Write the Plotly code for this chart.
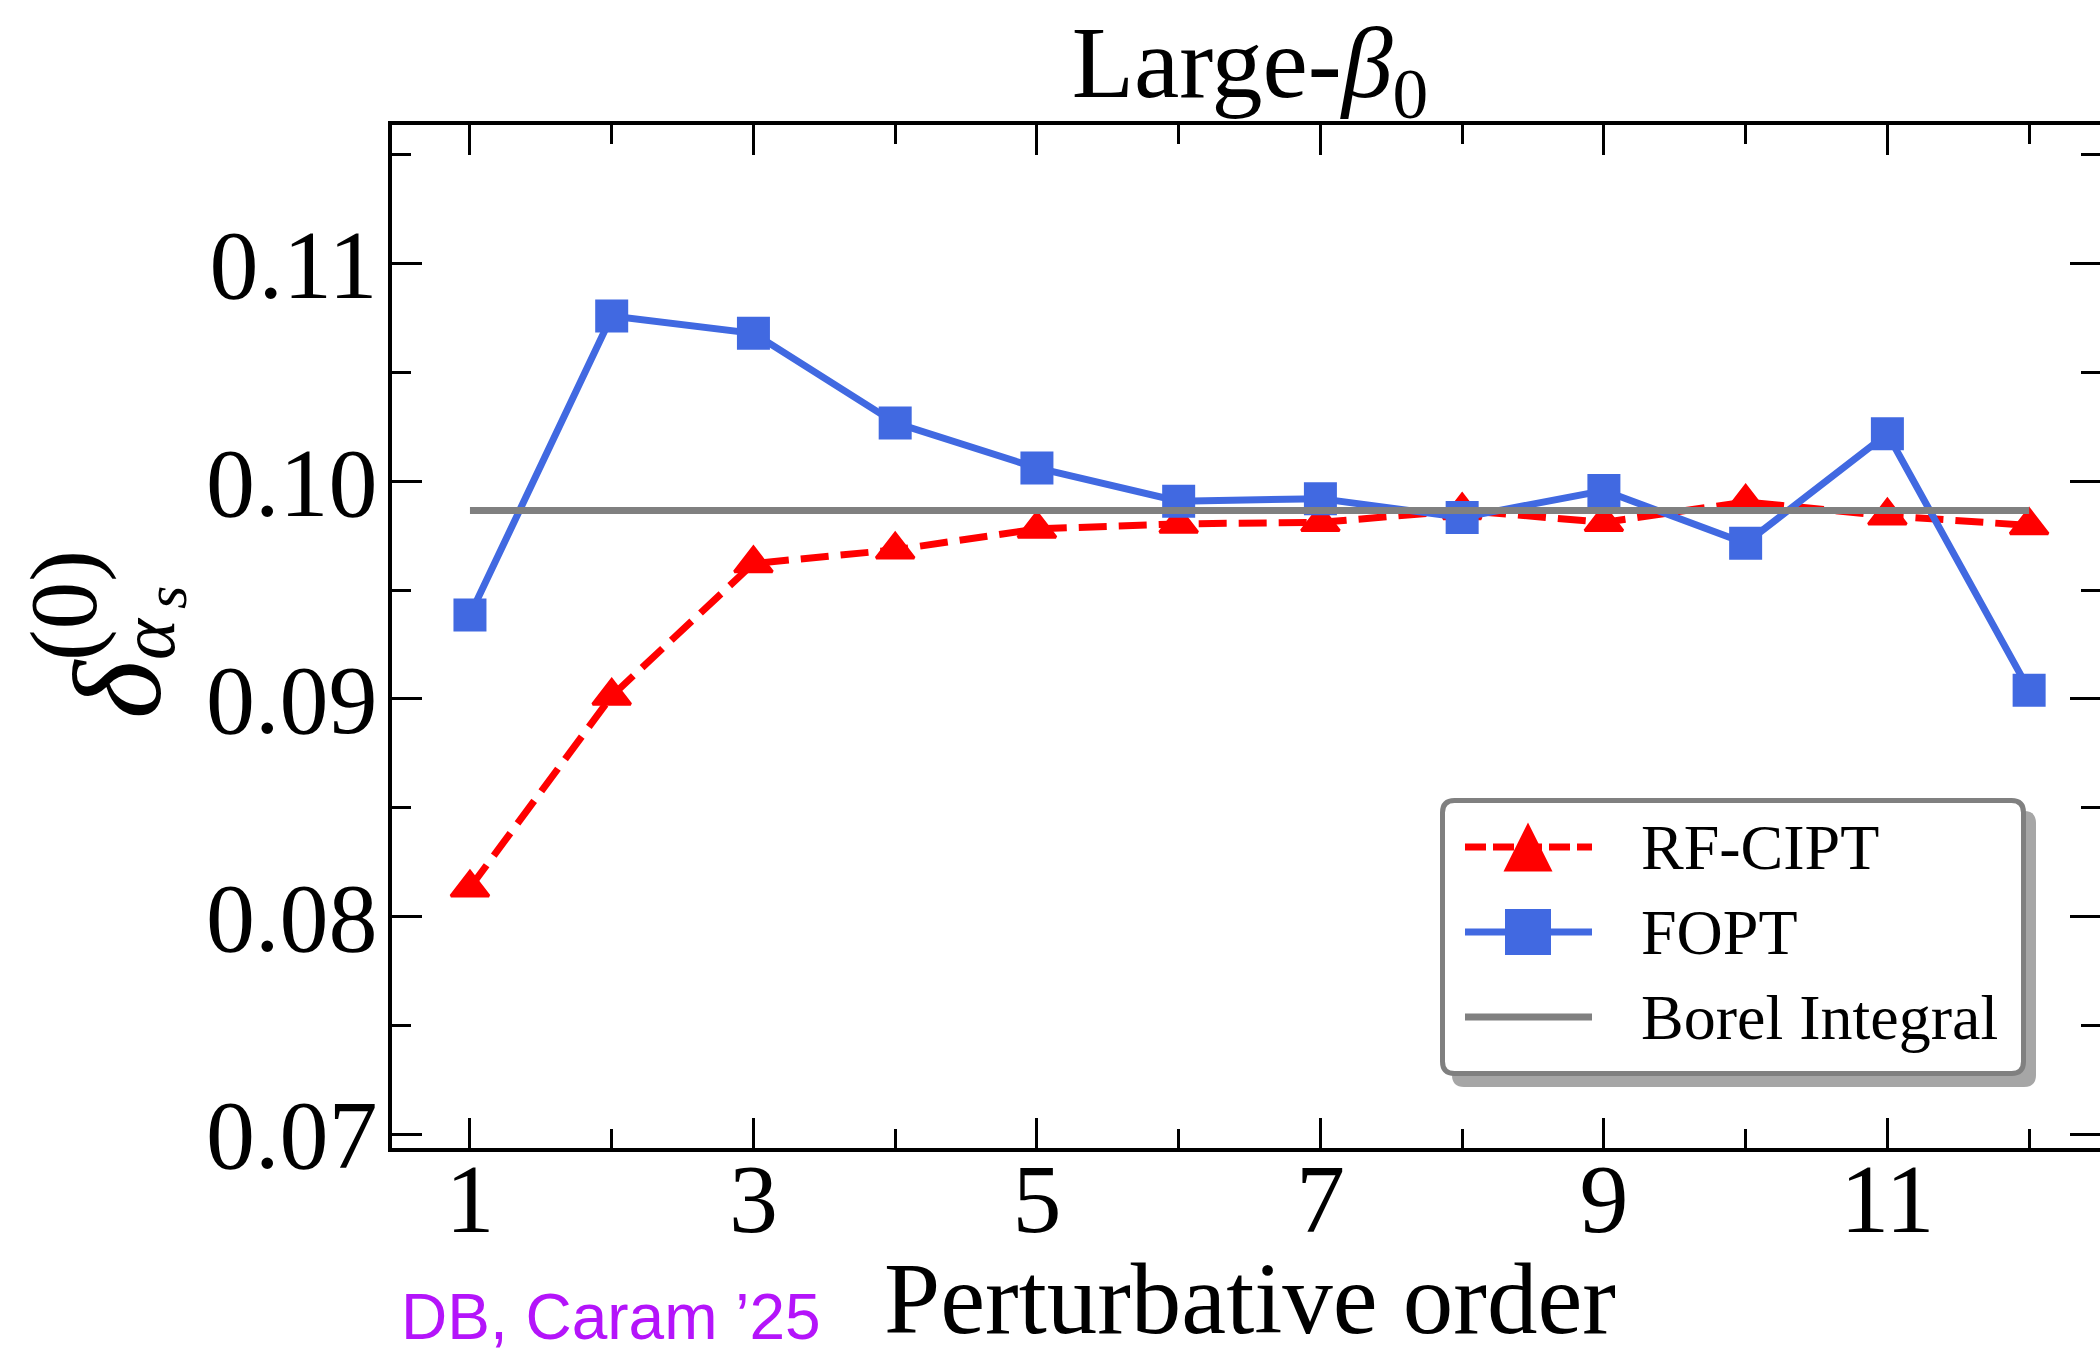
import plotly.graph_objects as go

# ---------------- data ----------------
orders = [1, 2, 3, 4, 5, 6, 7, 8, 9, 10, 11, 12]
rf_cipt = [0.08132, 0.09013, 0.09622, 0.09685, 0.09781, 0.09804,
           0.09811, 0.09866, 0.09811, 0.09905, 0.09841, 0.09797]
fopt = [0.09385, 0.10759, 0.10680, 0.10268, 0.10061, 0.09908,
        0.09920, 0.09833, 0.09957, 0.09715, 0.10218, 0.09040]
borel_integral = 0.09866
x_tick_vals = [1, 3, 5, 7, 9, 11]
y_tick_vals = [0.07, 0.08, 0.09, 0.10, 0.11]
series_names = ["RF-CIPT", "FOPT", "Borel Integral"]

# ---------------- geometry helpers (pixel -> paper) ----------------
W, H = 2100, 1356
L, R, T, B = 392, 2100, 125, 1148


def px(x):
    return (x - L) / (R - L)


def py(y):
    return (B - y) / (B - T)


RED = "#FF0000"
BLUE = "#4169E1"
GRAY = "#808080"
SERIF = "Liberation Serif"

fig = go.Figure()

fig.add_trace(go.Scatter(
    x=orders, y=rf_cipt, name=series_names[0], mode="lines+markers",
    line=dict(color=RED, width=7, dash="28px,12px"),
    marker=dict(symbol="triangle-up", size=33, color=RED, line=dict(color=RED, width=3)),
    showlegend=False,
))
fig.add_trace(go.Scatter(
    x=orders, y=fopt, name=series_names[1], mode="lines+markers",
    line=dict(color=BLUE, width=7),
    marker=dict(symbol="square", size=33, color=BLUE),
    showlegend=False,
))
fig.add_trace(go.Scatter(
    x=[orders[0], orders[-1]], y=[borel_integral, borel_integral],
    name=series_names[2], mode="lines",
    line=dict(color=GRAY, width=7),
    showlegend=False,
))

axis_common = dict(
    showline=True, linewidth=4, linecolor="black", mirror="ticks",
    ticks="inside", ticklen=30, tickwidth=3, tickcolor="black",
    showgrid=False, zeroline=False,
    tickfont=dict(family=SERIF, size=98, color="black"),
)

fig.update_xaxes(
    range=[0.45, 12.5], tickmode="array", tickvals=x_tick_vals,
    ticklabelstandoff=-38,
    minor=dict(tickmode="array", tickvals=[v for v in orders if v not in x_tick_vals],
               ticks="inside", ticklen=19, tickwidth=3, tickcolor="black"),
    **axis_common,
)
fig.update_yaxes(
    range=[0.06936, 0.11637], tickmode="array", tickvals=y_tick_vals,
    ticktext=[f"{v:.2f}" for v in y_tick_vals],
    ticklabelstandoff=-9,
    minor=dict(tickmode="array", tickvals=[round(v + 0.005, 3) for v in y_tick_vals[:-1]] + [0.115],
               ticks="inside", ticklen=19, tickwidth=3, tickcolor="black"),
    **axis_common,
)

annotations = []

# x-axis label
annotations.append(dict(
    text="Perturbative order", x=px(1250), y=py(1299), xref="paper", yref="paper",
    xanchor="center", yanchor="middle", showarrow=False,
    font=dict(family=SERIF, size=101, color="black"),
))

# y-axis label pieces (rotated)
ylab = [
    ("<i>δ</i>", 125, 118, 689),
    ("(0)", 95, 64, 606),
    ("<i>α</i>", 78, 147, 639),
    ("<i>s</i>", 60, 166, 598),
]
for txt, fs, cx, cy in ylab:
    annotations.append(dict(
        text=txt, x=px(cx), y=py(cy), xref="paper", yref="paper",
        xanchor="center", yanchor="middle", showarrow=False, textangle=-90,
        font=dict(family=SERIF, size=fs, color="black"),
    ))

# watermark
annotations.append(dict(
    text="DB, Caram \u201925", x=px(399), y=py(1317), xref="paper", yref="paper",
    xanchor="left", yanchor="middle", showarrow=False,
    font=dict(family="Liberation Sans", size=64, color="#B414FA"),
))

# legend text
legend_rows = [847, 932, 1017]
for name, ry in zip(series_names, legend_rows):
    annotations.append(dict(
        text=name, x=px(1639), y=py(ry), xref="paper", yref="paper",
        xanchor="left", yanchor="middle", showarrow=False,
        font=dict(family=SERIF, size=64, color="black"),
    ))


def rrect(x0, y0, x1, y1, r):
    return (f"M {px(x0 + r)},{py(y0)} L {px(x1 - r)},{py(y0)} "
            f"Q {px(x1)},{py(y0)} {px(x1)},{py(y0 + r)} L {px(x1)},{py(y1 - r)} "
            f"Q {px(x1)},{py(y1)} {px(x1 - r)},{py(y1)} L {px(x0 + r)},{py(y1)} "
            f"Q {px(x0)},{py(y1)} {px(x0)},{py(y1 - r)} L {px(x0)},{py(y0 + r)} "
            f"Q {px(x0)},{py(y0)} {px(x0 + r)},{py(y0)} Z")


shapes = []
# legend shadow + frame
shapes.append(dict(type="path", xref="paper", yref="paper", layer="above",
                   path=rrect(1452, 811, 2036, 1087, 12),
                   fillcolor="#A6A6A6", line=dict(width=0)))
shapes.append(dict(type="path", xref="paper", yref="paper", layer="above",
                   path=rrect(1442.5, 800.5, 2023.5, 1073.5, 12),
                   fillcolor="white", line=dict(color=GRAY, width=5)))
# legend handles
hx0, hx1, hc = 1465, 1592, 1528
shapes.append(dict(type="line", xref="paper", yref="paper", layer="above",
                   x0=px(hx0), x1=px(hx1), y0=py(legend_rows[0]), y1=py(legend_rows[0]),
                   line=dict(color=RED, width=7, dash="21px,7px")))
shapes.append(dict(type="path", xref="paper", yref="paper", layer="above",
                   path=(f"M {px(hc - 24.5)},{py(legend_rows[0] + 24.5)} "
                         f"L {px(hc + 24.5)},{py(legend_rows[0] + 24.5)} "
                         f"L {px(hc)},{py(legend_rows[0] - 24.5)} Z"),
                   fillcolor=RED, line=dict(width=0)))
shapes.append(dict(type="line", xref="paper", yref="paper", layer="above",
                   x0=px(hx0), x1=px(hx1), y0=py(legend_rows[1]), y1=py(legend_rows[1]),
                   line=dict(color=BLUE, width=7)))
shapes.append(dict(type="rect", xref="paper", yref="paper", layer="above",
                   x0=px(hc - 23), x1=px(hc + 23),
                   y0=py(legend_rows[1] + 23), y1=py(legend_rows[1] - 23),
                   fillcolor=BLUE, line=dict(width=0)))
shapes.append(dict(type="line", xref="paper", yref="paper", layer="above",
                   x0=px(hx0), x1=px(hx1), y0=py(legend_rows[2]), y1=py(legend_rows[2]),
                   line=dict(color=GRAY, width=7)))

fig.update_layout(
    width=W, height=H,
    margin=dict(l=L, r=W - R, t=T, b=H - B, autoexpand=False),
    paper_bgcolor="white", plot_bgcolor="white",
    title=dict(text="Large-<i>β</i><sub>0</sub>", x=px(1250), xref="paper",
               xanchor="center", y=1 - 61 / H, yref="container", yanchor="middle",
               font=dict(family=SERIF, size=102, color="black")),
    annotations=annotations,
    shapes=shapes,
    showlegend=False,
)

fig.write_html("out.html")
